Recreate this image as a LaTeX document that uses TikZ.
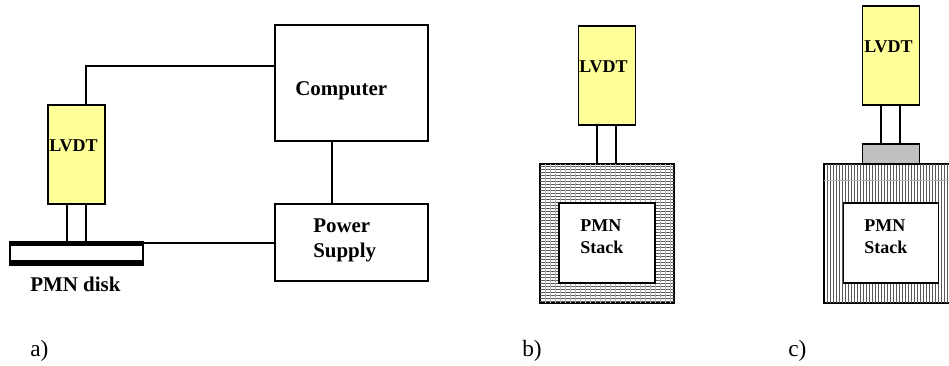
\documentclass[tikz,border=0pt]{standalone}
\usepackage{fontspec}
\setmainfont{Liberation Serif}
\definecolor{lvdtfill}{RGB}{255,255,153}
\definecolor{capgray}{RGB}{192,192,192}
\tikzset{
  x=0.75pt,y=-0.75pt,
  boxed/.style={draw=black,line width=1pt,inner sep=0pt,rectangle},
  lvdtbox/.style={boxed,fill=lvdtfill,minimum width=42.75pt,minimum height=74.25pt},
  wire/.style={draw=black,line width=0.9pt},
  lab/.style={font=\fontsize{15.7}{18.75}\selectfont\bfseries,inner sep=0pt,align=left,anchor=base west},
  smalllab/.style={font=\fontsize{13.5}{16.5}\selectfont\bfseries,inner sep=0pt,align=left,anchor=base west},
  captext/.style={font=\fontsize{17.5}{19}\selectfont,inner sep=0pt,anchor=base west},
  hatchline/.style={draw=black!65,line width=0.45pt},
  hatchfine/.style={draw=black!30,line width=0.3pt}
}
\begin{document}
\begin{tikzpicture}
\useasboundingbox (0,0) rectangle (949,366);
% (a)
\node[boxed,minimum width=114.75pt,minimum height=87pt] (computer) at (351.5,83) {};
\node[boxed,minimum width=114.75pt,minimum height=57.75pt] (power) at (351.5,242.5) {};
\node[lvdtbox] (lvdtA) at (76.5,154.5) {};
\node[draw=black,fill=white,line width=1pt,inner sep=0pt,minimum width=99.75pt,minimum height=17.5pt] (diskA) at (76.5,253.5) {};
\fill[black] (diskA.north west) rectangle ([yshift=-4pt]diskA.north east);
\fill[black] ([yshift=4pt]diskA.south west) rectangle (diskA.south east);
\coordinate (ra) at (67,0);
\coordinate (rb) at (86,0);
\coordinate (topbend) at (86,66);
\coordinate (cpx) at (332,0);
\coordinate (diskwire) at (143,243);
\draw[wire] (ra |- lvdtA.south) -- (ra |- diskA.north);
\draw[wire] (rb |- lvdtA.south) -- (rb |- diskA.north);
\draw[wire] (rb |- lvdtA.north) -- (topbend) -- (topbend -| computer.west);
\draw[wire] (cpx |- computer.south) -- (cpx |- power.north);
\draw[wire] (diskwire) -- (diskwire -| power.west);
\node[lab] (tcomp) at (295,96) {Computer};
\node[lab] (tpower) at (313,258) {Power\\Supply};
\node[smalllab] (tlvdtA) at (49,152) {LVDT};
\node[lab] (tdisk) at (30,292) {PMN disk};
\node[captext] (capa) at (30,357) {a)};
% (b)
\node[boxed,fill=white,minimum width=100.5pt,minimum height=104.25pt] (outerB) at (607,233.5) {};
\begin{scope}
\clip (outerB.south west) rectangle (outerB.north east);
\foreach \yy in {166,169,...,304} \draw[hatchline] (540,\yy) -- (674,\yy);
\foreach \xx in {545,550,...,674} \draw[hatchfine] (\xx,164) -- (\xx,303);
\end{scope}
\draw[boxed,fill=none] (outerB.south west) rectangle (outerB.north east);
\node[boxed,fill=white,minimum width=72pt,minimum height=60pt] (innerB) at (607,243) {};
\node[lvdtbox] (lvdtB) at (607,75.5) {};
\coordinate (rc) at (597,0);
\coordinate (rd) at (616,0);
\draw[wire] (rc |- lvdtB.south) -- (rc |- outerB.north);
\draw[wire] (rd |- lvdtB.south) -- (rd |- outerB.north);
\node[smalllab] (tlvdtB) at (579,73) {LVDT};
\node[smalllab] (tstackB) at (580,254) {PMN\\Stack};
\node[captext] (capb) at (522,357) {b)};
% (c)
\node[boxed,fill=white,minimum width=100.5pt,minimum height=104.25pt] (outerC) at (891,233.5) {};
\begin{scope}
\clip (824,164) rectangle (949,303);
\foreach \xx in {827,830,...,950} \draw[hatchline] (\xx,164) -- (\xx,303);
\draw[hatchfine] (824,180) -- (949,180);
\end{scope}
\draw[boxed,fill=none] (outerC.south west) rectangle (outerC.north east);
\node[boxed,fill=white,minimum width=71.5pt,minimum height=60pt] (innerC) at (891,243) {};
\node[boxed,fill=capgray,minimum width=43pt,minimum height=15pt] (capC) at (891,154) {};
\node[lvdtbox] (lvdtC) at (891,55.5) {};
\coordinate (re) at (881,0);
\coordinate (rf) at (900,0);
\draw[wire] (re |- lvdtC.south) -- (re |- capC.north);
\draw[wire] (rf |- lvdtC.south) -- (rf |- capC.north);
\node[smalllab] (tlvdtC) at (864,53) {LVDT};
\node[smalllab] (tstackC) at (864,254) {PMN\\Stack};
\node[captext] (capc) at (788,357) {c)};
\end{tikzpicture}
\end{document}
